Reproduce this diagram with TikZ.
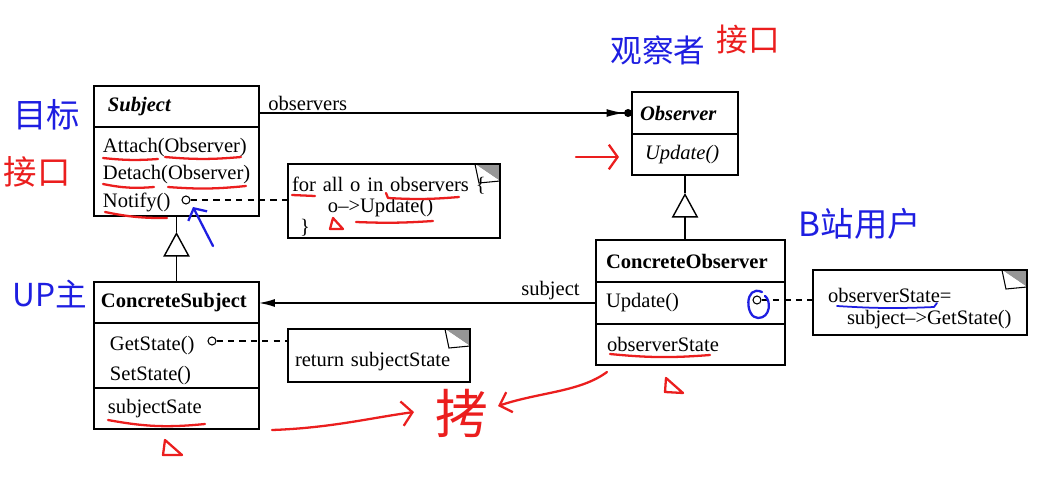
\documentclass[tikz,border=0pt]{standalone}
\usepackage{fontspec}
\setmainfont{Liberation Serif}
\newfontfamily\cjk{Noto Sans CJK SC}
\usetikzlibrary{arrows.meta}
\definecolor{penred}{RGB}{235,30,30}
\definecolor{penblue}{RGB}{30,30,225}
\definecolor{foldgray}{RGB}{150,150,150}
\tikzset{
	classpart/.style={draw, line width=0.8pt, anchor=north west, align=left,
		inner xsep=0.1cm, inner ysep=0pt, outer sep=0pt},
	notebox/.style={draw, fill=white, line width=0.8pt, anchor=north west, align=left,
		inner xsep=0.08cm, inner ysep=0pt, outer sep=0pt, font=\fontsize{11.7}{12}\selectfont,
		path picture={
			\fill[foldgray] ([xshift=-0.5cm]path picture bounding box.north east)
				-- (path picture bounding box.north east)
				-- ([yshift=-0.34cm]path picture bounding box.north east) -- cycle;
			\draw[fill=white, line width=0.6pt] ([xshift=-0.5cm]path picture bounding box.north east)
				.. controls ([xshift=-0.47cm,yshift=-0.2cm]path picture bounding box.north east)
				.. ([xshift=-0.42cm,yshift=-0.38cm]path picture bounding box.north east)
				-- ([yshift=-0.34cm]path picture bounding box.north east);
		}},
	hollowdot/.style={draw, circle, fill=white, line width=0.6pt, minimum size=0.16cm, inner sep=0pt},
	assoc/.style={line width=0.8pt},
	dashlink/.style={line width=0.8pt, dash pattern=on 3.5pt off 3pt},
	inherit/.style={line width=0.8pt, -{Triangle[open, length=14pt, width=15pt]}},
	redpen/.style={penred, line width=1.3pt, line cap=round, line join=round},
	bluepen/.style={penblue, line width=1.3pt, line cap=round, line join=round},
	scrawl/.style={inner sep=0pt}
}
\begin{document}
\begin{tikzpicture}[x=0.02cm, y=-0.02cm, font=\fontsize{11.7}{15.8}\selectfont]
	\useasboundingbox (0,0) rectangle (1059,477);
	% Subject
	\node[classpart, text width=3.1cm, minimum height=0.82cm] (subjHead) at (94,86)
		{\hspace*{0.18cm}\textbf{\textit{Subject}}};
	\node[classpart, text width=3.1cm, minimum height=1.78cm] (subjOps) at (subjHead.south west)
		{\rule{0pt}{12pt}\hspace*{0.08cm}Attach(Observer)\\\hspace*{0.08cm}Detach(Observer)\\\hspace*{0.08cm}Notify()};
	% Observer
	\node[classpart, text width=1.92cm, minimum height=0.84cm] (obsHead) at (632,92)
		{\hspace*{0.06cm}\textbf{\textit{Observer}}};
	\node[classpart, text width=1.92cm, minimum height=0.82cm] (obsOps) at (obsHead.south west)
		{\hspace*{0.16cm}\textit{Update()}};
	% ConcreteObserver
	\node[classpart, text width=3.58cm, minimum height=0.84cm] (cobsHead) at (596,240)
		{\hspace*{0.1cm}\textbf{ConcreteObserver}};
	\node[classpart, text width=3.58cm, minimum height=0.84cm] (cobsOps) at (cobsHead.south west)
		{\hspace*{0.1cm}Update()};
	\node[classpart, text width=3.58cm, minimum height=0.82cm] (cobsAttr) at (cobsOps.south west)
		{\hspace*{0.12cm}observerState};
	% ConcreteSubject
	\node[classpart, text width=3.1cm, minimum height=0.82cm] (csubjHead) at (94,282)
		{\hspace*{0.04cm}\textbf{ConcreteSubject}};
	\node[classpart, text width=3.1cm, minimum height=1.3cm] (csubjOps) at (csubjHead.south west)
		{\rule{0pt}{14pt}\hspace*{0.22cm}GetState()\\[1pt]\hspace*{0.22cm}SetState()};
	\node[classpart, text width=3.1cm, minimum height=0.82cm] (csubjAttr) at (csubjOps.south west)
		{\hspace*{0.18cm}subjectSate};
	% Notas
	\node[notebox, text width=4.08cm, minimum height=1.48cm] (noteLoop) at (288,164)
		{\rule{0pt}{15pt}for all o in observers \{\\\hspace*{0.72cm}o\textendash>Update()\\\hspace*{0.16cm}\}};
	\node[notebox, text width=3.48cm, minimum height=1.06cm] (noteRet) at (288,329)
		{\rule{0pt}{15pt}\hspace*{0.06cm}return subjectState};
	\node[notebox, text width=4.12cm, minimum height=1.3cm] (noteState) at (813,270)
		{\rule{0pt}{15pt}\hspace*{0.22cm}observerState=\\\hspace*{0.6cm}subject\textendash>GetState()};
	% Puntos de las notas
	\node[hollowdot] (notifyDot) at (186,200) {};
	\node[hollowdot] (getDot) at (212,341) {};
	\node[hollowdot] (updDot) at (757,300) {};
	\draw[dashlink] (notifyDot) -- (noteLoop.west |- notifyDot);
	\draw[dashlink] (getDot) -- (noteRet.west |- getDot);
	\draw[dashlink] (updDot) -- (noteState.west |- updDot);
	% Asociaciones
	\draw[assoc, -{Latex[length=10pt,width=4.5pt] Circle[length=4.5pt]}]
		(subjHead.east |- obsHead.west) -- (obsHead.west);
	\node[anchor=west, inner sep=0pt] (lblObservers) at (268,103) {observers};
	\draw[assoc, -{Latex[length=9pt,width=4.5pt]}] (cobsOps.west) -- (csubjHead.east |- cobsOps.west);
	\node[anchor=west, inner sep=0pt] (lblSubject) at (521,291) {subject};
	% Herencia
	\coordinate (obsTri) at ([yshift=-0.36cm]obsOps.south);
	\draw[assoc] (obsOps.south) -- (obsTri);
	\draw[inherit] (obsTri |- cobsHead.north) -- (obsTri);
	\coordinate (subjTri) at ([yshift=-0.32cm]subjOps.south);
	\draw[assoc] (subjOps.south) -- (subjTri);
	\draw[inherit] (subjTri |- csubjHead.north) -- (subjTri);
	% Anotaciones a mano
	\node[scrawl, text=penblue, font=\cjk\fontsize{19}{19}\selectfont] (hTarget) at (47,115) {目标};
	\node[scrawl, text=penred, font=\cjk\fontsize{19}{19}\selectfont] (hIface) at (37,172) {接口};
	\node[scrawl, text=penblue, font=\cjk\fontsize{18}{18}\selectfont] (hObserver) at (658,50) {观察者};
	\node[scrawl, text=penred, font=\cjk\fontsize{18}{18}\selectfont] (hIfaceTop) at (748,40) {接口};
	\node[scrawl, text=penblue, font=\cjk\fontsize{18}{18}\selectfont] (hUp) at (50,294) {UP主};
	\node[scrawl, text=penblue, font=\cjk\fontsize{19}{19}\selectfont] (hUser) at (860,224) {B站用户};
	\node[scrawl, text=penred, font=\cjk\fontsize{30}{30}\selectfont] (hCopy) at (462,413) {拷};
	% Subrayados
	\draw[redpen] (103,158) to[bend right=5] (158,159);
	\draw[redpen] (165,157) to[bend right=5] (241,157);
	\draw[redpen] (103,184) to[bend right=8] (154,187);
	\draw[redpen] (168,187) to[bend right=5] (246,186);
	\draw[redpen] (105,212) to[bend right=6] (167,218);
	\draw[redpen] (292,195) -- (315,196);
	\draw[redpen] (386,193) -- (388,198) to[bend right=4] (459,197);
	\draw[redpen] (356,222) to[bend right=3] (433,221);
	\draw[redpen] (108,420) to[bend right=8] (205,424);
	\draw[redpen] (610,354) to[bend right=5] (710,355);
	\draw[bluepen, line width=1pt] (837,306) to[bend right=3] (934,307) -- (937,303);
	% Triangulitos
	\draw[redpen] (333,218) -- (330,229) -- (343,229) -- cycle;
	\draw[redpen] (165,440) -- (163,455) -- (182,455) -- cycle;
	\draw[redpen] (666,378) -- (665,392) -- (683,393) -- cycle;
	% Flechas a mano
	\draw[redpen, -{Straight Barb[length=5pt,width=14pt]}] (576,157) -- (619,157);
	\draw[bluepen, -{Straight Barb[length=5pt,width=12pt]}] (213,246) -- (193,207);
	\draw[redpen, -{Straight Barb[length=6pt,width=14pt]}] (272,430) .. controls (330,428) and (370,418) .. (414,412);
	\draw[redpen, -{Straight Barb[length=6pt,width=12pt]}] (607,372) .. controls (580,392) and (540,392) .. (498,406);
	\draw[bluepen] (762,292) .. controls (744,284) and (745,318) .. (758,318)
		.. controls (771,318) and (771,300) .. (765,296);
\end{tikzpicture}
\end{document}
